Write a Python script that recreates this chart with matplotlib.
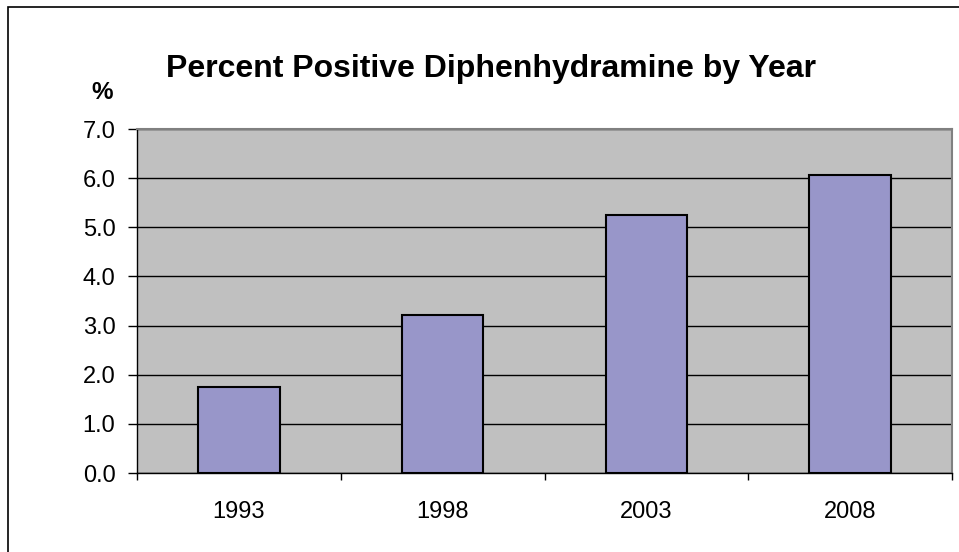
"""Percent positive diphenhydramine by year - Excel-style bar chart."""
import matplotlib
matplotlib.use("Agg")
import matplotlib.pyplot as plt
from matplotlib.patches import Rectangle

years = ["1993", "1998", "2003", "2008"]
pct_positive = [1.76, 3.21, 5.25, 6.06]
y_ticks = [0.0, 1.0, 2.0, 3.0, 4.0, 5.0, 6.0, 7.0]

plt.rcParams["font.family"] = ["Liberation Sans", "DejaVu Sans"]

fig = plt.figure(figsize=(9.59, 5.52), dpi=100)
ax = fig.add_axes([137 / 959, 1 - 473 / 552, 815 / 959, 344 / 552])

# outer chart frame (only top and left fall inside the image)
fig.patches.append(Rectangle((8 / 959, -0.1), 1.2, 1 - 7 / 552 + 0.1,
                             transform=fig.transFigure, fill=False,
                             edgecolor="black", linewidth=1.2))

ax.set_facecolor("#C0C0C0")
x = list(range(len(years)))
ax.bar(x, pct_positive, width=0.4, color="#9896C9", edgecolor="black",
       linewidth=1.5, zorder=3)

ax.set_xlim(-0.5, len(years) - 0.5)
ax.set_ylim(0, 7)
ax.set_yticks(y_ticks)
ax.set_yticklabels([f"{v:.1f}" for v in y_ticks], fontsize=17)
ax.yaxis.grid(True, color="black", linewidth=1.0, zorder=1)
ax.set_axisbelow(True)

# category boundary ticks, labels centred between them
ax.set_xticks([i - 0.5 for i in range(len(years) + 1)])
ax.set_xticklabels([])
ax.set_xticks(x, minor=True)
ax.set_xticklabels(years, minor=True, fontsize=17)
ax.tick_params(axis="x", which="major", length=5, width=1, direction="out")
ax.tick_params(axis="x", which="minor", length=0, pad=20)
ax.tick_params(axis="y", length=6.5, width=1, direction="out", pad=9)

for side in ("top", "right"):
    ax.spines[side].set_color("#808080")
    ax.spines[side].set_linewidth(1.5)
for side in ("left", "bottom"):
    ax.spines[side].set_color("black")
    ax.spines[side].set_linewidth(1.0)

fig.text(491 / 959, 1 - 77 / 552, "Percent Positive Diphenhydramine by Year",
         ha="center", va="baseline", fontsize=23, fontweight="bold")
fig.text(102 / 959, 1 - 99 / 552, "%", ha="center", va="baseline",
         fontsize=17.5, fontweight="bold")

fig.savefig("out.png", dpi=100)
